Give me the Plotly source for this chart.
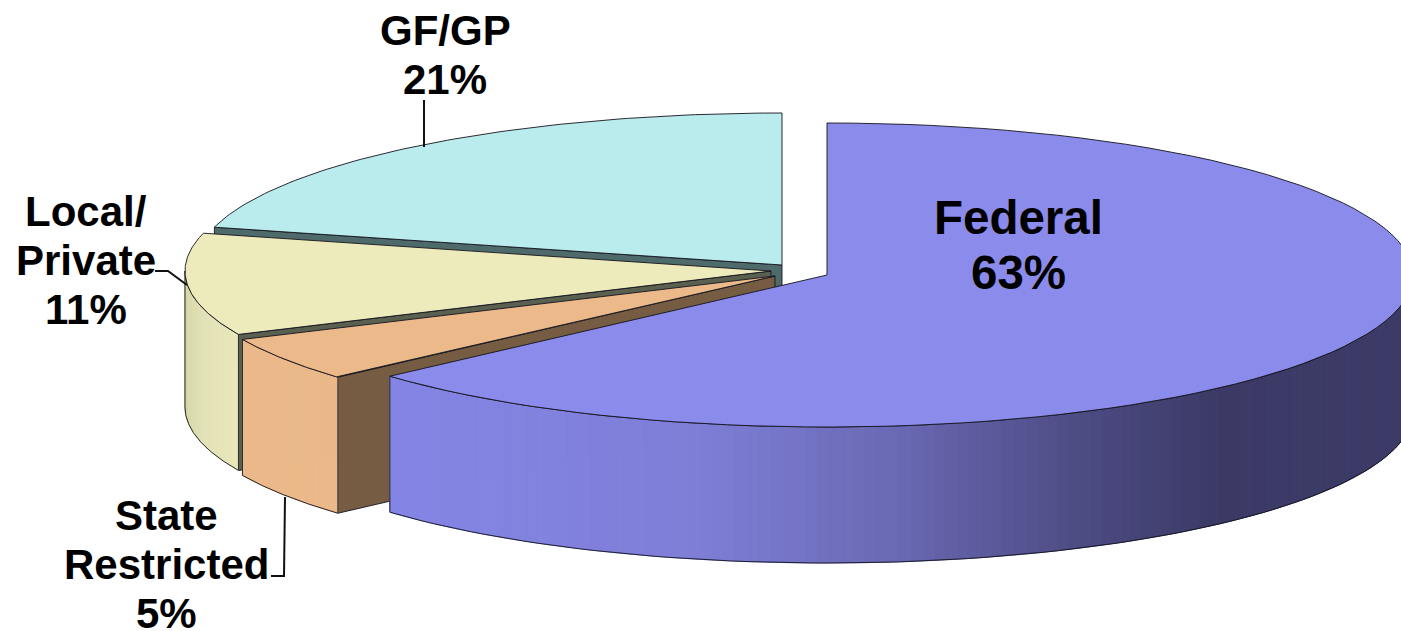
import numpy as np
import plotly.graph_objects as go

# ---- data (clockwise from 12 o'clock) ----
categories = ["Federal", "State Restricted", "Local/Private", "GF/GP"]
shares = [63.4, 4.75, 10.85, 21.0]
label_lines = [["Federal", "63%"], ["State", "Restricted", "5%"], ["Local/", "Private", "11%"], ["GF/GP", "21%"]]

# ---- styling / projection of the tilted disc ----
W, H = 1401, 631
RX, RY, DEPTH = 586, 152, 136
centers = {"Federal": (827, 275), "State Restricted": (775, 276), "Local/Private": (771, 271), "GF/GP": (782, 265)}
top_col = {"Federal": "#8b8bec", "State Restricted": "#ebb98a", "Local/Private": "#edebbb", "GF/GP": "#bbeced"}
wall_col = {"State Restricted": "#765c42", "Local/Private": "#596050", "GF/GP": "#4f6a6a"}
side_stops = {
    "Federal": [(0.0, "#8585e6"), (0.30, "#7f7fd8"), (0.50, "#6a69b4"), (0.68, "#4d4c84"), (0.82, "#3c3a66"), (1.0, "#3c3a66")],
    "State Restricted": [(0.0, "#ebb98a"), (1.0, "#ebb98a")],
    "Local/Private": [(0.0, "#d8d8ac"), (0.35, "#e4e3b8"), (1.0, "#e9e8bc")],
}
font_sizes = {"Federal": 47.5}
DEFAULT_FONT = 42
LINE_GAP = {"Federal": 55}
DEFAULT_GAP = 49
label_anchor = {"Federal": (1018, 217), "State Restricted": (166, 515), "Local/Private": (86, 211), "GF/GP": (445, 30)}
leaders = [[(424, 100), (424, 147)], [(155, 271), (168, 271), (187, 285)], [(285, 497), (284, 576), (271, 576)]]
EDGE = "rgba(20,20,30,0.9)"


def hex_rgb(c):
    return np.array([int(c[i:i + 2], 16) for i in (1, 3, 5)], float)


def ramp(stops, t):
    for (t0, c0), (t1, c1) in zip(stops, stops[1:]):
        if t <= t1:
            f = (t - t0) / (t1 - t0)
            r = hex_rgb(c0) * (1 - f) + hex_rgb(c1) * f
            return "rgb(%d,%d,%d)" % tuple(r)
    return stops[-1][1]


def arc(name, a0, a1, n=90):
    cx, cy = centers[name]
    th = np.radians(np.linspace(a0, a1, n))
    return cx + RX * np.sin(th), cy - RY * np.cos(th)


fig = go.Figure()


def poly(x, y, fill, line=EDGE, width=1):
    fig.add_trace(go.Scatter(x=list(x), y=list(y), mode="lines", fill="toself", fillcolor=fill,
                             line=dict(color=line, width=width), hoverinfo="skip", showlegend=False))


def top_face(name, a0, a1):
    cx, cy = centers[name]
    x, y = arc(name, a0, a1)
    poly(np.r_[cx, x, cx], np.r_[cy, y, cy], top_col[name])


def cut_wall(name, ang):
    cx, cy = centers[name]
    x, y = arc(name, ang, ang, 1)
    poly([cx, x[0], x[0], cx, cx], [cy, y[0], y[0] + DEPTH, cy + DEPTH, cy], wall_col[name])


def outer_side(name, a0, a1, steps=120):
    edges = np.linspace(a0, a1, steps + 1)
    ax, _ = arc(name, a0, a1, 200)
    lo, hi = ax.min(), ax.max()
    if name == "Federal":
        lo, hi = arc(name, a1, a1, 1)[0][0], W
    for e0, e1 in zip(edges, edges[1:]):
        x, y = arc(name, e0, e1, 4)
        t = float(np.clip((x.mean() - lo) / (hi - lo), 0, 1))
        c = ramp(side_stops[name], t)
        poly(np.r_[x, x[::-1], x[0]], np.r_[y, y[::-1] + DEPTH, y[0]], c, line=c, width=1)
    x, y = arc(name, a0, a1)
    ox = np.r_[x, x[-1], x[::-1], x[0]]
    oy = np.r_[y, y[-1] + DEPTH, y[::-1] + DEPTH, y[0]]
    fig.add_trace(go.Scatter(x=ox, y=oy, mode="lines", line=dict(color=EDGE, width=1),
                             hoverinfo="skip", showlegend=False))


# cumulative angles from the shares
angles = np.r_[0, np.cumsum(shares)] * 360 / sum(shares)
spans = {c: (angles[i], angles[i + 1]) for i, c in enumerate(categories)}

# painter's order, back to front
a0, a1 = spans["GF/GP"]
cut_wall("GF/GP", a0)
top_face("GF/GP", a0, a1)

a0, a1 = spans["Local/Private"]
cut_wall("Local/Private", a0)
outer_side("Local/Private", a0, 270)   # the rim turns away from the viewer past 9 o'clock
top_face("Local/Private", a0, a1)

a0, a1 = spans["State Restricted"]
cut_wall("State Restricted", a0)
outer_side("State Restricted", a0, a1)
top_face("State Restricted", a0, a1)

a0, a1 = spans["Federal"]
outer_side("Federal", 90, a1)          # front rim only
top_face("Federal", a0, a1)

for pts in leaders:
    fig.add_trace(go.Scatter(x=[p[0] for p in pts], y=[p[1] for p in pts], mode="lines",
                             line=dict(color="#111111", width=2), hoverinfo="skip", showlegend=False))

annotations = []
for name, lines in zip(categories, label_lines):
    x0, y0 = label_anchor[name]
    gap = LINE_GAP.get(name, DEFAULT_GAP)
    for i, txt in enumerate(lines):
        annotations.append(dict(x=x0, y=y0 + i * gap, text=f"<b>{txt}</b>", showarrow=False,
                                xanchor="center", yanchor="middle",
                                font=dict(family="Liberation Sans", size=font_sizes.get(name, DEFAULT_FONT), color="#000000")))

fig.update_layout(
    width=W, height=H, margin=dict(l=0, r=0, t=0, b=0), paper_bgcolor="white", plot_bgcolor="white",
    xaxis=dict(range=[0, W], visible=False, fixedrange=True),
    yaxis=dict(range=[H, 0], visible=False, fixedrange=True),
    annotations=annotations, showlegend=False,
)
fig.write_html("out.html", config={"displayModeBar": False},
               post_script="document.body.style.margin='0';document.body.style.overflow='hidden';")
